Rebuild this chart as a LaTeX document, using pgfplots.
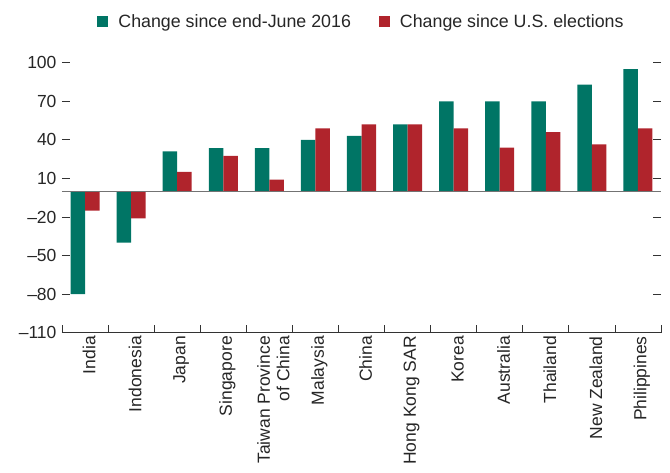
\documentclass[border=0pt]{standalone}
\usepackage{fontspec}
\setmainfont{Liberation Sans}
\usepackage{pgfplots}
\pgfplotsset{compat=1.18}

\definecolor{imfgreen}{HTML}{007565}
\definecolor{imfred}{HTML}{B0242C}

\begin{document}
\begin{tikzpicture}
\begin{axis}[
  scale only axis,
  width=599pt, height=270pt,
  ybar=0pt,
  bar width=14.5pt,
  xmin=-0.5, xmax=12.5,
  ymin=-110, ymax=100,
  axis x line*=bottom,
  y axis line style={draw=none},
  x axis line style={line width=0.8pt, black!80},
  tick align=inside,
  xtick={0,...,12},
  xticklabels={India, Indonesia, Japan, Singapore, {Taiwan Province\\of China}, Malaysia, China, Hong Kong SAR, Korea, Australia, Thailand, New Zealand, Philippines},
  major x tick style={draw=none},
  minor xtick={-0.5,0.5,...,12.5},
  minor x tick style={line width=0.8pt, black!80},
  minor tick length=8pt,
  xticklabel style={rotate=90, anchor=east, align=right, yshift=-4pt},
  ytick={-110,-80,-50,-20,10,40,70,100},
  yticklabels={--110,--80,--50,--20,10,40,70,100},
  yticklabel pos=left,
  ytick pos=both,
  major tick length=8pt,
  y tick style={line width=0.8pt, black!80},
  tick label style={font=\fontsize{17.5}{19.5}\selectfont, text=black!85},
  yticklabel style={xshift=-2pt},
  legend columns=2,
  legend style={draw=none, at={(0.5,1)}, anchor=south, yshift=30pt,
    font=\fontsize{17.8}{19.5}\selectfont, text=black!85,
    /tikz/every even column/.append style={column sep=26pt}},
  legend image code/.code={\fill[#1] (0pt,-5.5pt) rectangle (11pt,5.5pt);
    \path (19pt,0pt);},
  clip=false,
]
\addplot[fill=imfgreen, draw=none] coordinates {
  (0,-80) (1,-40) (2,31) (3,33.5) (4,33.5) (5,40) (6,43)
  (7,52) (8,70) (9,70) (10,70) (11,83) (12,95)
};
\addplot[fill=imfred, draw=none] coordinates {
  (0,-15) (1,-21) (2,15) (3,27.5) (4,9) (5,49) (6,52)
  (7,52) (8,49) (9,34) (10,46) (11,36.5) (12,49)
};
\legend{Change since end-June 2016, Change since U.S. elections}
\draw[black!55, line width=1pt] (axis cs:-0.5,0) -- (axis cs:12.5,0);
\end{axis}
\pgfresetboundingbox
\path[use as bounding box] (-62pt,-139.3pt) rectangle (608pt,332.7pt);
\end{tikzpicture}
\end{document}
